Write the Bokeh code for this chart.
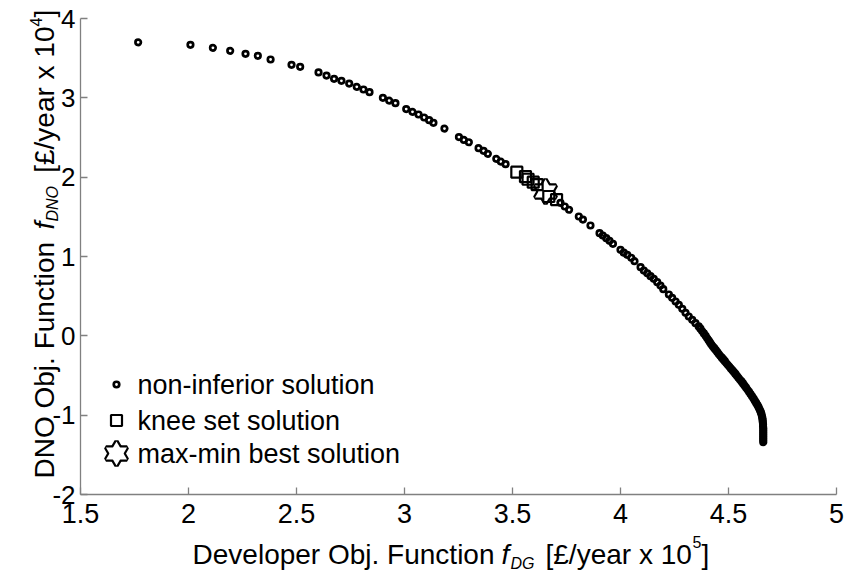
from math import pi

from bokeh.core.properties import value
from bokeh.embed import file_html
from bokeh.models import FixedTicker, Label, Range1d
from bokeh.plotting import figure
from bokeh.resources import INLINE

# ---- data -------------------------------------------------------------
# Pareto front (non-inferior solutions): developer objective (x 1e5 GBP/yr)
# against DNO objective (x 1e4 GBP/yr)
dg_obj = [
    1.767, 2.009, 2.113, 2.193, 2.264, 2.321, 2.380, 2.477, 2.517, 2.602,
    2.639, 2.674, 2.708, 2.744, 2.779, 2.810, 2.838, 2.900, 2.929, 2.958,
    3.008, 3.037, 3.065, 3.091, 3.114, 3.134, 3.185, 3.252, 3.275, 3.298,
    3.343, 3.366, 3.386, 3.425, 3.446, 3.468,
    3.722, 3.742, 3.762, 3.807, 3.826, 3.861, 3.903, 3.918, 3.934, 3.949,
    3.965, 4.000, 4.015, 4.031, 4.050, 4.065, 4.093, 4.108, 4.124, 4.139,
    4.154, 4.170, 4.185, 4.198, 4.224, 4.239, 4.255, 4.270, 4.286, 4.301,
    4.316, 4.332, 4.347, 4.362,
    4.370, 4.378, 4.386, 4.394, 4.401, 4.408, 4.414, 4.420, 4.427, 4.434,
    4.441, 4.448, 4.455, 4.462, 4.469, 4.476, 4.483, 4.490, 4.497, 4.504,
    4.511, 4.518, 4.525, 4.532, 4.539, 4.546, 4.553, 4.560, 4.567, 4.574,
    4.581, 4.588, 4.595, 4.602, 4.609, 4.616, 4.622, 4.628, 4.634, 4.639,
    4.643, 4.647, 4.650, 4.653, 4.655, 4.657, 4.658, 4.659, 4.660, 4.660,
    4.661, 4.661, 4.661, 4.661, 4.661, 4.661, 4.661, 4.661,
]
dno_obj = [
    3.700, 3.668, 3.630, 3.593, 3.555, 3.530, 3.483, 3.416, 3.391, 3.320,
    3.281, 3.240, 3.215, 3.180, 3.139, 3.105, 3.071, 3.000, 2.966, 2.933,
    2.858, 2.824, 2.790, 2.752, 2.718, 2.685, 2.613, 2.505, 2.470, 2.440,
    2.365, 2.332, 2.294, 2.231, 2.197, 2.164,
    1.677, 1.630, 1.589, 1.504, 1.466, 1.391, 1.294, 1.265, 1.231, 1.198,
    1.160, 1.084, 1.050, 1.021, 0.984, 0.941, 0.865, 0.823, 0.789, 0.752,
    0.719, 0.676, 0.634, 0.588, 0.521, 0.479, 0.433, 0.391, 0.341, 0.290,
    0.244, 0.202, 0.159, 0.118,
    0.090, 0.060, 0.030, 0.000, -0.028, -0.055, -0.080, -0.105, -0.130, -0.155,
    -0.180, -0.205, -0.228, -0.252, -0.275, -0.298, -0.320, -0.343, -0.365, -0.388,
    -0.411, -0.434, -0.457, -0.480, -0.503, -0.527, -0.551, -0.575, -0.600, -0.626,
    -0.652, -0.678, -0.705, -0.733, -0.762, -0.790, -0.818, -0.846, -0.872, -0.897,
    -0.920, -0.943, -0.966, -0.990, -1.015, -1.040, -1.065, -1.090, -1.115, -1.140,
    -1.165, -1.190, -1.215, -1.240, -1.265, -1.290, -1.315, -1.340,
]

# knee set of the front
knee_dg = [3.520, 3.560, 3.572, 3.596, 3.614, 3.668, 3.704]
knee_dno = [2.063, 2.008, 1.974, 1.937, 1.907, 1.756, 1.718]

# max-min best compromise
best_dg = [3.653]
best_dno = [1.820]

x_ticks = [1.5, 2, 2.5, 3, 3.5, 4, 4.5, 5]
x_tick_labels = ["1.5", "2", "2.5", "3", "3.5", "4", "4.5", "5"]
y_ticks = [-2, -1, 0, 1, 2, 3, 4]
y_tick_labels = ["-2", "-1", "0", "1", "2", "3", "4"]

legend_labels = ["non-inferior solution", "knee set solution", "max-min best solution"]

# ---- layout -----------------------------------------------------------
# The frame fills the whole canvas; the axes sit at fixed data locations so
# the axis titles (built from several labels) can live outside the axis box.
W, H = 846, 575
BL, BR, BT, BB = 80, 836, 18, 494          # axis box in pixels
X0, X1, Y0, Y1 = 1.5, 5.0, -2.0, 4.0       # axis box in data units
FONT = "Liberation Sans"


def dx(px):
    return X0 + (px - BL) * (X1 - X0) / (BR - BL)


def dy(py):
    return Y1 - (py - BT) * (Y1 - Y0) / (BB - BT)


p = figure(
    width=W, height=H,
    x_range=Range1d(dx(0), dx(W)), y_range=Range1d(dy(H), dy(0)),
    output_backend="svg", toolbar_location=None, min_border=0,
)
p.outline_line_color = None
p.grid.visible = False
p.background_fill_color = "white"
p.border_fill_color = "white"

for ax, ticks, labels, size, standoff, loc, bounds in (
    (p.xaxis[0], x_ticks, x_tick_labels, "27px", 9, Y0, (X0, X1)),
    (p.yaxis[0], y_ticks, y_tick_labels, "26px", 5, X0, (Y0, Y1)),
):
    ax.fixed_location = loc
    ax.bounds = bounds
    ax.ticker = FixedTicker(ticks=ticks)
    ax.major_label_overrides = {t: s for t, s in zip(ticks, labels)}
    ax.axis_line_color = "#808080"
    ax.axis_line_width = 1.3
    ax.major_tick_line_color = "#808080"
    ax.major_tick_line_width = 1.3
    ax.major_tick_in = 7
    ax.major_tick_out = 0
    ax.minor_tick_line_color = None
    ax.major_label_text_font = FONT
    ax.major_label_text_font_size = size
    ax.major_label_text_color = "black"
    ax.major_label_standoff = standoff


def hexagram(xs, ys, size):
    # outline of two overlapping triangles, then a white fill hides the inner lines
    for m in ("triangle", "inverted_triangle"):
        p.scatter(xs, ys, marker=m, size=size, fill_color=None,
                  line_color="black", line_width=4.4)
    for m in ("triangle", "inverted_triangle"):
        p.scatter(xs, ys, marker=m, size=size, fill_color="white",
                  line_color=None)


# ---- marks ------------------------------------------------------------
hexagram(best_dg, best_dno, 21)
p.scatter(dg_obj, dno_obj, marker="circle", size=5.5, fill_color=None,
          line_color="black", line_width=2.7)
p.scatter(knee_dg, knee_dno, marker="square", size=11, fill_color=None,
          line_color="black", line_width=2.2)

# ---- legend -----------------------------------------------------------
leg_mx = dx(116)
leg_tx = dx(137)
leg_y = [dy(384), dy(420), dy(453)]
p.scatter([leg_mx], [leg_y[0]], marker="circle", size=5.5, fill_color=None,
          line_color="black", line_width=2.7)
p.scatter([leg_mx], [leg_y[1]], marker="square", size=11, fill_color=None,
          line_color="black", line_width=2.2)
hexagram([leg_mx], [leg_y[2]], 21)
p.text(x=[leg_tx] * 3, y=leg_y, text=legend_labels,
       text_font=value(FONT), text_font_size="27px", text_color="black",
       text_baseline="middle", text_align="left")


# ---- axis titles (with sub/superscripts) ------------------------------
def label(px, py, text, size, align="left", style="normal", angle=0.0,
          baseline="alphabetic"):
    p.add_layout(Label(
        x=dx(px), y=dy(py), text=text, angle=angle,
        text_font=FONT, text_font_size=size, text_font_style=style,
        text_color="black", text_align=align, text_baseline=baseline,
    ))


# x title
label(494, 554, "Developer Obj. Function", "28px", align="right")
label(501, 554, "f", "28px", style="italic")
label(510, 563, "DG", "16px", style="italic")
label(545, 554, "[\u00a3/year x 10", "28px")
label(692, 541, "5", "16px")
label(701, 554, "]", "28px")

# y title (rotated, reading upwards)
A = pi / 2
M = "middle"
label(44, 478, "DNO Obj. Function", "28px", angle=A, baseline=M)
label(44, 229, "f", "28px", style="italic", angle=A, baseline=M)
label(52, 221, "DNO", "16px", style="italic", angle=A, baseline=M)
label(44, 26, "[\u00a3/year x 10", "28px", align="right", angle=A, baseline=M)
label(35, 26, "4", "16px", angle=A, baseline=M)
label(44, 17, "]", "28px", angle=A, baseline=M)

open("out.html", "w").write(file_html(p, INLINE))
